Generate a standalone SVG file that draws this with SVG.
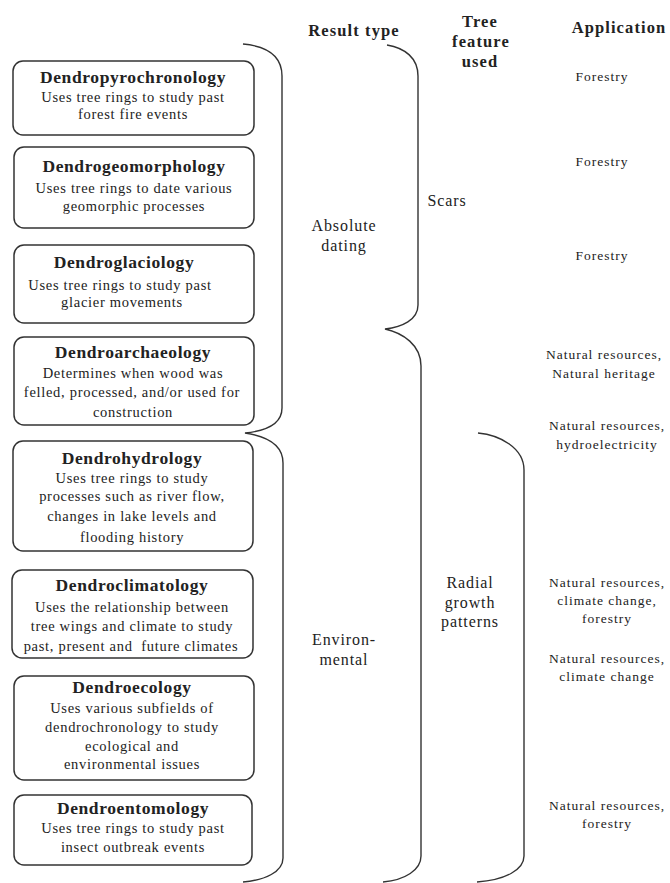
<svg xmlns="http://www.w3.org/2000/svg" width="670" height="883" viewBox="0 0 670 883">
<style>
text{font-family:"Liberation Serif","Times New Roman",serif;fill:#222;text-anchor:middle}
.hd{font-size:16.5px;font-weight:bold;letter-spacing:1.1px}
.box{fill:#fff;stroke:#333;stroke-width:1.5}
.tt{font-size:17.5px;font-weight:bold;letter-spacing:0.6px}
.ds{font-size:14.5px;letter-spacing:0.7px}
.ap{font-size:13.5px;letter-spacing:1px}
.lb{font-size:16px;letter-spacing:0.9px}
.br{fill:none;stroke:#333;stroke-width:1.4}
</style>
<rect width="670" height="883" fill="#fff"/>
<g id="headers">
<text class="hd" x="354" y="36">Result type</text>
<text class="hd" x="480" y="27">Tree</text>
<text class="hd" x="481" y="47">feature</text>
<text class="hd" x="480" y="67">used</text>
<text class="hd" x="619" y="33">Application</text>
</g>
<g id="connectors">
<path class="br" d="M243,44 C265,46 282,55 282,76 L282,408 C282,425 265,431 245,433 C265,436 283,444 283,463 L283,858 C283,872 265,880 243,882"/>
<path class="br" d="M387,45 C405,48 418,58 418,76 L418,305 C418,320 402,327 385,329 C403,333 421,345 421,366 L421,856 C421,870 405,880 383,882"/>
<path class="br" d="M478,433 C500,435 524,448 524,470 L524,856 C524,870 505,880 477,882"/>
</g>
<g id="n1">
<rect class="box" x="13" y="61" width="241" height="74" rx="10"/>
<text class="tt" x="133" y="83">Dendropyrochronology</text>
<text class="ds" x="133" y="102">Uses tree rings to study past</text>
<text class="ds" x="133" y="119">forest fire events</text>
</g>
<g id="n2">
<rect class="box" x="14" y="147" width="240" height="81" rx="10"/>
<text class="tt" x="134" y="172">Dendrogeomorphology</text>
<text class="ds" x="134" y="193">Uses tree rings to date various</text>
<text class="ds" x="134" y="211">geomorphic processes</text>
</g>
<g id="n3">
<rect class="box" x="14" y="245" width="240" height="78" rx="10"/>
<text class="tt" x="124" y="268">Dendroglaciology</text>
<text class="ds" x="120" y="290">Uses tree rings to study past</text>
<text class="ds" x="122" y="307">glacier movements</text>
</g>
<g id="n4">
<rect class="box" x="14" y="337" width="240" height="88" rx="10"/>
<text class="tt" x="133" y="358">Dendroarchaeology</text>
<text class="ds" x="133" y="378">Determines when wood was</text>
<text class="ds" x="132" y="397">felled, processed, and/or used for</text>
<text class="ds" x="133" y="417">construction</text>
</g>
<g id="n5">
<rect class="box" x="13" y="441" width="240" height="110" rx="10"/>
<text class="tt" x="132" y="464">Dendrohydrology</text>
<text class="ds" x="132" y="483">Uses tree rings to study</text>
<text class="ds" x="132" y="501">processes such as river flow,</text>
<text class="ds" x="132" y="521">changes in lake levels and</text>
<text class="ds" x="132" y="542">flooding history</text>
</g>
<g id="n6">
<rect class="box" x="12" y="570" width="241" height="88" rx="10"/>
<text class="tt" x="132" y="591">Dendroclimatology</text>
<text class="ds" x="132" y="612">Uses the relationship between</text>
<text class="ds" x="132" y="631">tree wings and climate to study</text>
<text class="ds" x="131" y="651" xml:space="preserve">past, present and  future climates</text>
</g>
<g id="n7">
<rect class="box" x="14" y="676" width="240" height="104" rx="10"/>
<text class="tt" x="132" y="693">Dendroecology</text>
<text class="ds" x="132" y="713">Uses various subfields of</text>
<text class="ds" x="132" y="732">dendrochronology to study</text>
<text class="ds" x="132" y="751">ecological and</text>
<text class="ds" x="132" y="769">environmental issues</text>
</g>
<g id="n8">
<rect class="box" x="14" y="795" width="238" height="70" rx="10"/>
<text class="tt" x="133" y="814">Dendroentomology</text>
<text class="ds" x="133" y="833">Uses tree rings to study past</text>
<text class="ds" x="133" y="852">insect outbreak events</text>
</g>
<g id="result-absolute">
<text class="lb" x="344" y="231">Absolute</text>
<text class="lb" x="344" y="251">dating</text>
</g>
<g id="result-environmental">
<text class="lb" x="344" y="645">Environ-</text>
<text class="lb" x="344" y="665">mental</text>
</g>
<g id="feature-scars">
<text class="lb" x="447" y="206">Scars</text>
</g>
<g id="feature-radial">
<text class="lb" x="470" y="588">Radial</text>
<text class="lb" x="470" y="608">growth</text>
<text class="lb" x="470" y="627">patterns</text>
</g>
<g id="applications">
<text class="ap" x="602" y="81">Forestry</text>
<text class="ap" x="602" y="166">Forestry</text>
<text class="ap" x="602" y="260">Forestry</text>
<text class="ap" x="604" y="359">Natural resources,</text>
<text class="ap" x="604" y="378">Natural heritage</text>
<text class="ap" x="607" y="430">Natural resources,</text>
<text class="ap" x="607" y="449">hydroelectricity</text>
<text class="ap" x="607" y="587">Natural resources,</text>
<text class="ap" x="607" y="605">climate change,</text>
<text class="ap" x="607" y="623">forestry</text>
<text class="ap" x="607" y="663">Natural resources,</text>
<text class="ap" x="607" y="681">climate change</text>
<text class="ap" x="607" y="810">Natural resources,</text>
<text class="ap" x="607" y="828">forestry</text>
</g>
</svg>
